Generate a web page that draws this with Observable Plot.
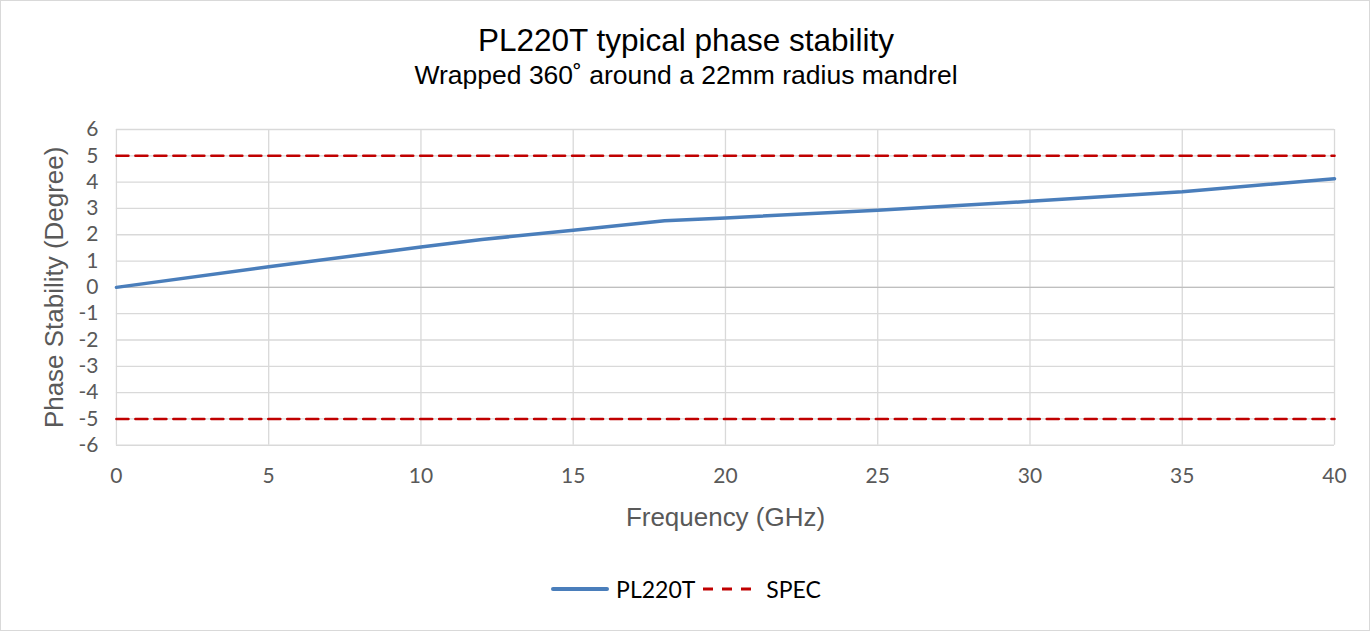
<!DOCTYPE html>
<html>
<head>
<meta charset="utf-8">
<script src="https://cdn.jsdelivr.net/npm/d3@7"></script>
<script src="https://cdn.jsdelivr.net/npm/@observablehq/plot@0.6"></script>
<style>
  html, body { margin: 0; padding: 0; background: #fff; }
  #wrap { position: relative; width: 1368px; height: 629px; border: 1px solid #d9d9d9; background: #fff; overflow: hidden; }
  .title { position: absolute; left: 0; width: 1370px; text-align: center; font-family: "Liberation Sans", Arial, sans-serif; color: #000; line-height: 1.15; }
  #t1 { top: 21px; font-size: 31.5px; }
  #t2 { top: 59px; font-size: 26.5px; }
  #chart { position: absolute; left: -1px; top: 99px; }
  #legend { position: absolute; top: 574px; left: 0; width: 1370px; display: flex; justify-content: center; align-items: center; font-family: Lato, "Open Sans", sans-serif; font-size: 23px; color: #000; }
  #legend span { display: inline-flex; align-items: center; }
</style>
</head>
<body>
<div id="wrap">
  <div class="title" id="t1">PL220T typical phase stability</div>
  <div class="title" id="t2">Wrapped 360˚ around a 22mm radius mandrel</div>
  <div id="chart"></div>
  <div id="legend"></div>
</div>
<script>
const frequency = [0, 5, 10, 12, 15, 18, 20, 25, 30, 35, 40];
const phase = [0, 0.78, 1.53, 1.82, 2.17, 2.53, 2.64, 2.93, 3.27, 3.63, 4.13];
const specLevels = [5, -5];
const xTicks = [0, 5, 10, 15, 20, 25, 30, 35, 40];
const yTicks = [-6, -5, -4, -3, -2, -1, 0, 1, 2, 3, 4, 5, 6];
const seriesNames = ["PL220T", "SPEC"];
const xLabel = "Frequency (GHz)";
const yLabel = "Phase Stability (Degree)";

const blue = "#4a7ebb";
const red = "#c00000";
const grid = "#d9d9d9";
const textGray = "#595959";

const data = frequency.map((f, i) => ({f, p: phase[i]}));
const spec = [];
specLevels.forEach(v => { spec.push({f: 0, p: v, g: v}); spec.push({f: 40, p: v, g: v}); });

const chart = Plot.plot({
  width: 1370,
  height: 440,
  marginLeft: 116,
  marginRight: 35,
  marginTop: 29,
  marginBottom: 95,
  style: {fontFamily: "Lato, 'Open Sans', sans-serif", background: "transparent"},
  x: {domain: [0, 40]},
  y: {domain: [-6, 6]},
  marks: [
    Plot.ruleX(xTicks, {stroke: grid, strokeWidth: 1.3}),
    Plot.ruleY(yTicks, {stroke: grid, strokeWidth: 1.3}),
    Plot.ruleY([0], {stroke: "#bfbfbf", strokeWidth: 1.3}),
    Plot.axisX(xTicks, {tickSize: 0, tickPadding: 23, fontSize: 21, fill: textGray, label: null, tickFormat: d => String(d)}),
    Plot.axisY(yTicks, {tickSize: 0, tickPadding: 18, fontSize: 21, fill: textGray, label: null, tickFormat: d => String(d)}),
    Plot.line(spec, {x: "f", y: "p", z: "g", stroke: red, strokeWidth: 2.6, strokeDasharray: "12,7"}),
    Plot.line(data, {x: "f", y: "p", stroke: blue, strokeWidth: 3.5}),
    Plot.text([yLabel], {frameAnchor: "left", dx: -62, rotate: -90, textAnchor: "middle", lineAnchor: "middle", fontSize: 26, fill: textGray, fontFamily: "'Liberation Sans', Arial, sans-serif"}),
    Plot.text([xLabel], {frameAnchor: "bottom", dy: 72, textAnchor: "middle", lineAnchor: "middle", fontSize: 26, fill: textGray, fontFamily: "'Liberation Sans', Arial, sans-serif"})
  ]
});
document.getElementById("chart").appendChild(chart);

const legend = document.getElementById("legend");
legend.innerHTML =
  `<span><svg width="58" height="10"><line x1="2" y1="5" x2="56" y2="5" stroke="${blue}" stroke-width="4" stroke-linecap="round"/></svg>` +
  `<span style="margin-left:7px">${seriesNames[0]}</span></span>` +
  `<span style="margin-left:6px"><svg width="52" height="10"><line x1="2" y1="5" x2="50" y2="5" stroke="${red}" stroke-width="3" stroke-dasharray="10,9"/></svg>` +
  `<span style="margin-left:13px">${seriesNames[1]}</span></span>`;
</script>
</body>
</html>
